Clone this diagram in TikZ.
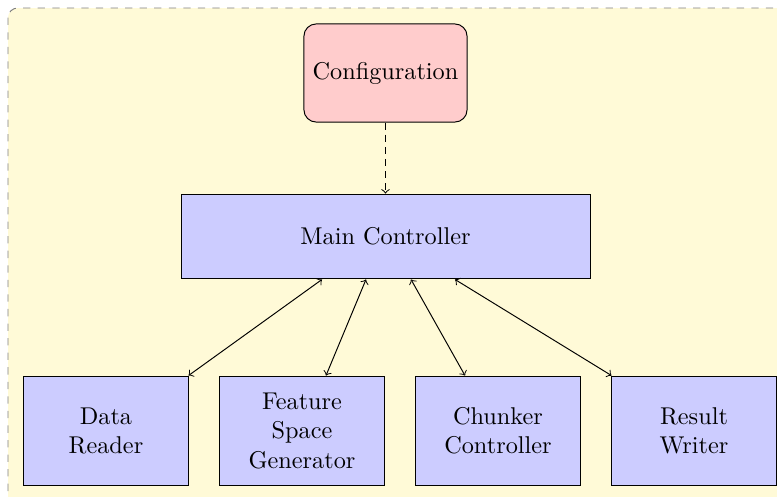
\documentclass[tikz,border=0pt]{standalone}
\usetikzlibrary{calc}

\definecolor{creambg}{RGB}{255,250,215}
\tikzset{every picture/.style={line width=0.4pt}}
\tikzset{
  cfgbox/.style={draw, fill=red!20, rounded corners=5pt, minimum width=67.2pt, minimum height=40.4pt, align=center},
  mainbox/.style={draw, fill=blue!20, minimum width=168.5pt, minimum height=35pt, align=center},
  unitbox/.style={draw, fill=blue!20, minimum width=67.6pt, minimum height=45.3pt, align=center},
}

\begin{document}
\begin{tikzpicture}[x=0.412pt,y=0.412pt,yscale=-1,xscale=1]
	\useasboundingbox (0,0) rectangle (777,496);
	\clip (0,0) rectangle (777,496);
	%Shape: Background
	\draw [gray, dashed, fill=creambg, rounded corners=4pt] (8,8) rectangle (800,520);

	% Nodes
	\node [cfgbox] (cfg) at (385.5,73) {Configuration};
	\node [mainbox] (main) at (385.5,236.5) {Main Controller};
	\node [unitbox] (reader) at (106,431) {Data\\Reader};
	\node [unitbox] (space) at (302,431) {Feature\\Space\\Generator};
	\node [unitbox] (chunker) at (498,431) {Chunker\\Controller};
	\node [unitbox] (writer) at (694,431) {Result\\Writer};

	% Connectors
	\draw [->, densely dashed] (cfg) -- (main);
	\draw [<->] ($(main.south)+(-63.5,0)$) -- (reader.north east);
	\draw [<->] ($(main.south)+(-19.5,0)$) -- ($(space.north)+(24,0)$);
	\draw [<->] ($(main.south)+(25.5,0)$) -- ($(chunker.north)+(-33,0)$);
	\draw [<->] ($(main.south)+(69.5,0)$) -- (writer.north west);
\end{tikzpicture}
\end{document}
